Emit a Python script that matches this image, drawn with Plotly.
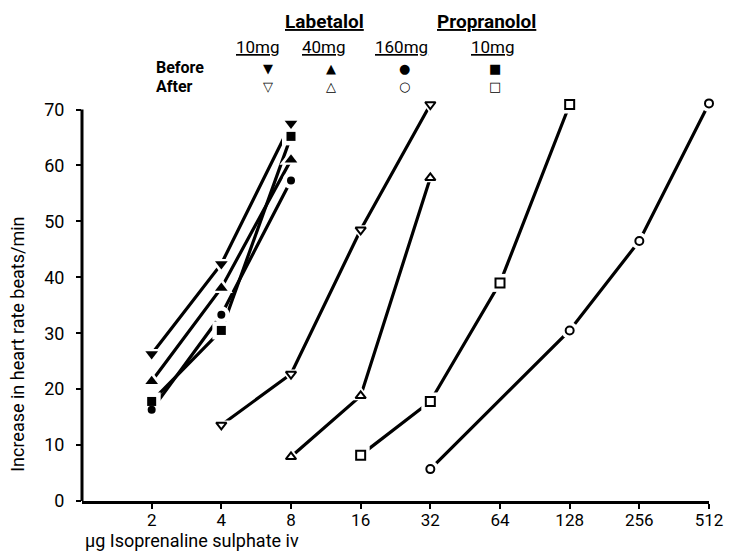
import plotly.graph_objects as go
import math

# ---- data ----
dose_ticks = [2, 4, 8, 16, 32, 64, 128, 256, 512]
dose_tick_labels = ["2", "4", "8", "16", "32", "64", "128", "256", "512"]
y_ticks = [0, 10, 20, 30, 40, 50, 60, 70]

# Labetalol 10 mg
lab10_before_x = [2, 4, 8]
lab10_before_y = [26.3, 42.4, 67.5]
lab10_after_x = [4, 8, 16, 32]
lab10_after_y = [13.6, 22.7, 48.5, 70.9]

# Labetalol 40 mg
lab40_before_x = [2, 4, 8]
lab40_before_y = [21.4, 38.1, 61.0]
lab40_after_x = [8, 16, 32]
lab40_after_y = [7.9, 18.8, 57.8]

# Labetalol 160 mg
lab160_before_x = [2, 4, 8]
lab160_before_y = [16.3, 33.3, 57.3]
lab160_after_x = [32, 128, 256, 512]
lab160_after_y = [5.7, 30.5, 46.5, 71.1]

# Propranolol 10 mg
prop10_before_x = [2, 4, 8]
prop10_before_y = [17.8, 30.5, 65.2]
prop10_after_x = [16, 32, 64, 128]
prop10_after_y = [8.2, 17.8, 39.0, 70.9]

series = [
    (lab10_before_x, lab10_before_y, "triangle-down", 11),
    (lab40_before_x, lab40_before_y, "triangle-up", 11),
    (lab160_before_x, lab160_before_y, "circle", 8),
    (prop10_before_x, prop10_before_y, "square", 9),
    (lab10_after_x, lab10_after_y, "triangle-down-open", 9),
    (lab40_after_x, lab40_after_y, "triangle-up-open", 9),
    (lab160_after_x, lab160_after_y, "circle-open", 8),
    (prop10_after_x, prop10_after_y, "square-open", 9),
]

FONT = "Roboto, sans-serif"
Y_TOP = 72.6

fig = go.Figure()
for xs, ys, sym, sz in series:
    fig.add_trace(go.Scatter(x=xs, y=ys, mode="lines",
                             line=dict(color="black", width=3.2),
                             showlegend=False, hoverinfo="skip"))
for xs, ys, sym, sz in series:
    base = sym.replace("-open", "")
    fig.add_trace(go.Scatter(x=xs, y=ys, mode="markers",
                             marker=dict(symbol=base, size=sz + 9, color="white",
                                         line=dict(width=0)),
                             showlegend=False, hoverinfo="skip", cliponaxis=False))
for xs, ys, sym, sz in series:
    if sym.endswith("-open"):
        mk = dict(symbol=sym.replace("-open", ""), size=sz, color="white",
                  line=dict(color="black", width=2))
    else:
        mk = dict(symbol=sym, size=sz, color="black", line=dict(width=0))
    fig.add_trace(go.Scatter(x=xs, y=ys, mode="markers", marker=mk,
                             showlegend=False, cliponaxis=False))

PLOT_L, PLOT_R, PLOT_B = 82, 719, 501
PLOT_T = PLOT_B - (PLOT_B - 110) * Y_TOP / 70.0

def px(xpix):
    return (xpix - PLOT_L) / (PLOT_R - PLOT_L)

def py(ypix):
    return (PLOT_B - ypix) / (PLOT_B - PLOT_T)

ann = []
def t(x, y, s, size=16, bold=False, xanchor="center", family=FONT, angle=0):
    txt = f"<b>{s}</b>" if bold else s
    ann.append(dict(x=px(x), y=py(y), xref="paper", yref="paper", text=txt,
                    showarrow=False, xanchor=xanchor, yanchor="middle",
                    textangle=angle,
                    font=dict(family=family, size=size, color="black")))

t(328, 22, "<u>Labetalol</u>", 19, True)
t(493, 22, "<u>Propranolol</u>", 19, True)
t(261, 48, "<u>10mg</u>", 17)
t(328, 48, "<u>40mg</u>", 17)
t(407, 48, "<u>160mg</u>", 17)
t(500, 48, "<u>10mg</u>", 17)
t(155, 68, "Before", 16, True, "left")
t(155, 87, "After", 16, True, "left")
sym_before = ["▼", "▲", "●", "■"]
sym_after = ["▽", "△", "○", "□"]
sym_x = [271, 335, 410, 502]
for sx, sb, sa in zip(sym_x, sym_before, sym_after):
    t(sx, 69, sb, 13, family="DejaVu Sans")
    t(sx, 87, sa, 13, bold=True, family="DejaVu Sans")

# axis titles
t(83, 540, "μg Isoprenaline sulphate iv", 18, xanchor="left")
t(17, 345, "Increase in heart rate beats/min", 18, angle=-90)

fig.update_layout(
    width=735, height=551,
    margin=dict(l=PLOT_L, r=735 - PLOT_R, t=PLOT_T, b=551 - PLOT_B),
    paper_bgcolor="white", plot_bgcolor="white",
    annotations=ann,
    font=dict(family=FONT, size=17, color="black"),
    shapes=[dict(type="line", xref="paper", yref="y", x0=0, x1=0, y0=0, y1=70,
                 line=dict(color="black", width=3))],
    xaxis=dict(type="log", range=[0, math.log10(512)],
               tickvals=dose_ticks, ticktext=dose_tick_labels,
               showline=True, linecolor="black", linewidth=3,
               ticks="outside", ticklen=5, tickwidth=2, tickcolor="black",
               ticklabelstandoff=-3,
               showgrid=False, zeroline=False,
               tickfont=dict(family=FONT, size=17)),
    yaxis=dict(range=[0, Y_TOP], tickvals=y_ticks,
               showline=False,
               ticks="outside", ticklen=5, tickwidth=2, tickcolor="black",
               ticklabelstandoff=8,
               showgrid=False, zeroline=False,
               tickfont=dict(family=FONT, size=18)),
)

fig.write_html("out.html", config={"displayModeBar": False},
               post_script="document.body.style.margin='0';")
